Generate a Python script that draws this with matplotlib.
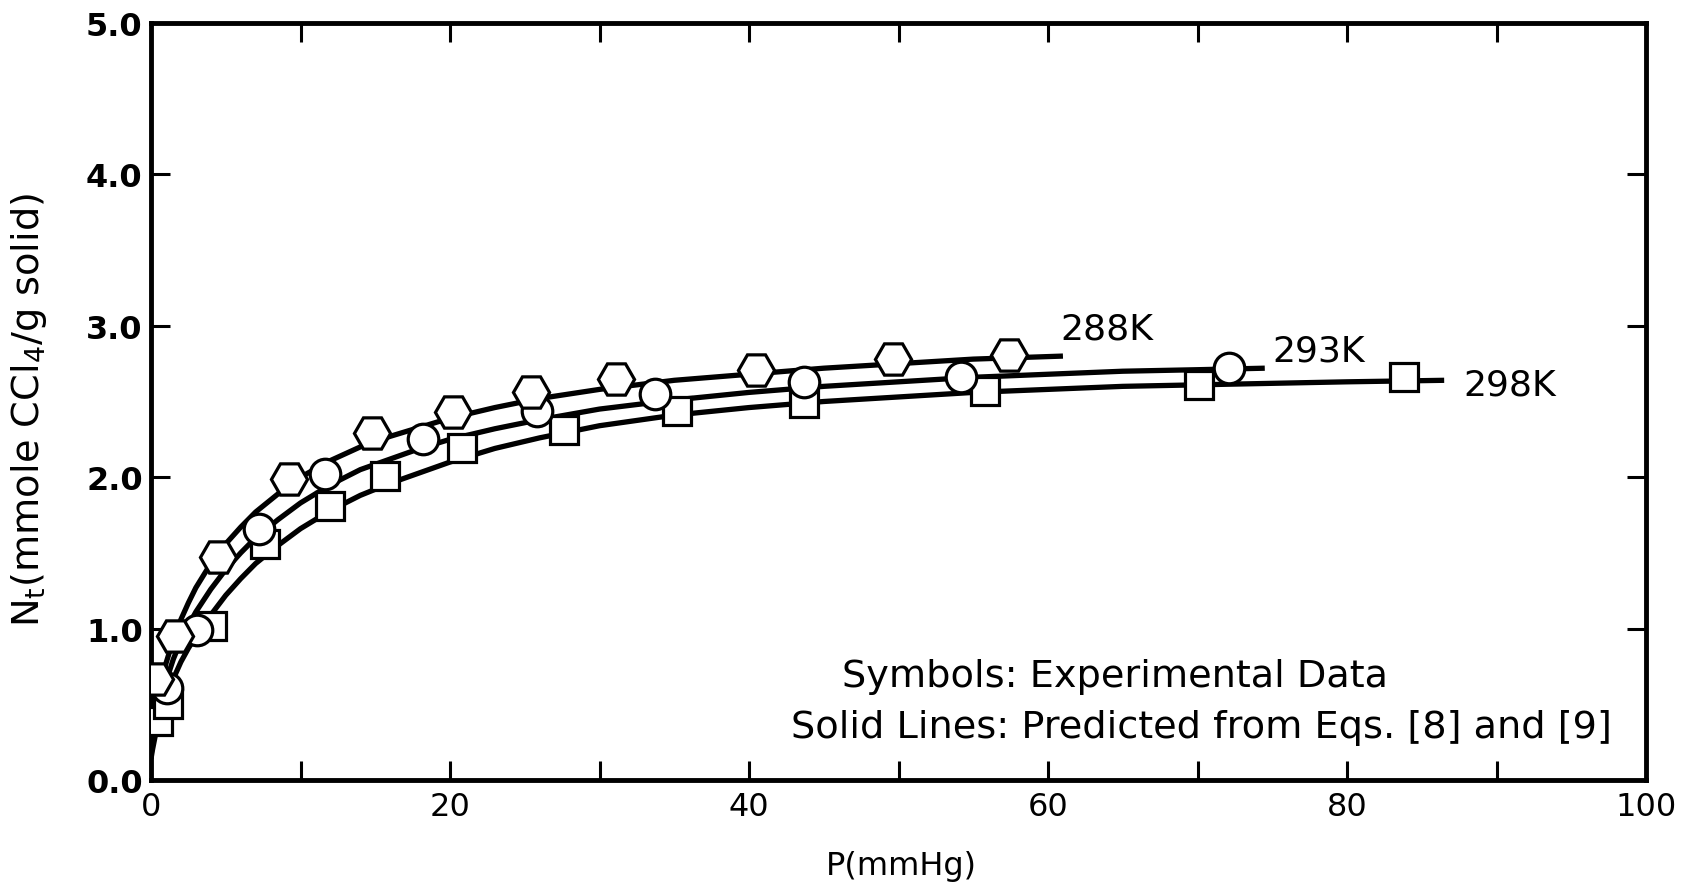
import matplotlib
matplotlib.use("Agg")
import matplotlib.pyplot as plt
import numpy as np

plt.rcParams['font.family'] = ['DejaVu Sans']
plt.rcParams['mathtext.fontset'] = 'dejavusans'

p_288 = [0.3, 1.6, 4.5, 9.2, 14.8, 20.2, 25.4, 31.1, 40.5, 49.6, 57.4]
n_288 = [0.67, 0.95, 1.47, 1.99, 2.29, 2.43, 2.56, 2.65, 2.71, 2.78, 2.81]

p_293 = [1.05, 3.05, 7.2, 11.65, 18.2, 25.8, 33.7, 43.7, 54.2, 72.1]
n_293 = [0.61, 0.99, 1.66, 2.02, 2.25, 2.44, 2.55, 2.63, 2.66, 2.72]

p_298 = [0.49, 1.15, 4.06, 7.63, 11.98, 15.67, 20.8, 27.6, 35.2, 43.7, 55.8, 70.1, 83.8]
n_298 = [0.39, 0.50, 1.02, 1.56, 1.81, 2.01, 2.19, 2.31, 2.44, 2.49, 2.57, 2.61, 2.66]

# ---- predicted curves ----
lp_288 = [0, 0.1, 0.3, 0.6, 1, 1.5, 2, 2.5, 3, 4, 5, 6, 7, 8.5, 10, 12, 14, 16, 18, 20, 23, 26, 30, 35, 40, 45, 50, 55, 61]
ln_288 = [0.18, 0.28, 0.45, 0.61, 0.77, 0.93, 1.06, 1.17, 1.27, 1.43, 1.56, 1.67, 1.77, 1.89, 2.00, 2.11, 2.20, 2.27, 2.33, 2.39, 2.46, 2.52, 2.58, 2.64, 2.68, 2.72, 2.75, 2.78, 2.80]

lp_293 = [0, 0.1, 0.3, 0.6, 1, 1.5, 2, 2.5, 3, 4, 5, 6, 7, 8.5, 10, 12, 14, 16, 18, 20, 23, 26, 30, 35, 40, 45, 50, 55, 60, 65, 70, 74.5]
ln_293 = [0.16, 0.24, 0.37, 0.51, 0.65, 0.80, 0.92, 1.02, 1.11, 1.26, 1.39, 1.50, 1.60, 1.72, 1.83, 1.95, 2.05, 2.12, 2.19, 2.25, 2.32, 2.38, 2.45, 2.51, 2.56, 2.60, 2.63, 2.66, 2.68, 2.70, 2.71, 2.72]

lp_298 = [0, 0.1, 0.3, 0.6, 1, 1.5, 2, 2.5, 3, 4, 5, 6, 7, 8.5, 10, 12, 14, 16, 18, 20, 23, 26, 30, 35, 40, 45, 50, 55, 60, 65, 70, 75, 80, 86.5]
ln_298 = [0.14, 0.20, 0.30, 0.42, 0.54, 0.67, 0.78, 0.87, 0.95, 1.09, 1.22, 1.33, 1.43, 1.55, 1.66, 1.78, 1.88, 1.96, 2.03, 2.10, 2.19, 2.26, 2.34, 2.41, 2.46, 2.50, 2.53, 2.56, 2.58, 2.60, 2.61, 2.62, 2.63, 2.64]

curve_labels = ['288K', '293K', '298K']
label_pos = [(60.8, 2.98), (75.0, 2.84), (87.8, 2.61)]

x_ticks = [0, 20, 40, 60, 80, 100]
y_ticks = [0.0, 1.0, 2.0, 3.0, 4.0, 5.0]

fig = plt.figure(figsize=(16.92, 8.87), dpi=100)
ax = fig.add_axes([151/1692, 1-781/887, 1495/1692, 757/887])

lw = 3.8
for lp, ln in [(lp_288, ln_288), (lp_293, ln_293), (lp_298, ln_298)]:
    ax.plot(lp, ln, color='black', lw=lw, zorder=2, solid_capstyle='butt',
            solid_joinstyle='round')

mew = 2.3
ax.plot(p_298, n_298, ls='none', marker='s', ms=20, mfc='white', mec='black', mew=mew, zorder=3)
ax.plot(p_293, n_293, ls='none', marker='o', ms=22, mfc='white', mec='black', mew=mew, zorder=4)
ax.plot(p_288, n_288, ls='none', marker='H', ms=26, mfc='white', mec='black', mew=mew, zorder=5)

for lab, (x, y) in zip(curve_labels, label_pos):
    ax.text(x, y, lab, fontsize=26, ha='left', va='center')

ax.text(46.2, 0.69, 'Symbols: Experimental Data', fontsize=27.5, ha='left', va='center')
ax.text(42.8, 0.35, 'Solid Lines: Predicted from Eqs. [8] and [9]', fontsize=27.5, ha='left', va='center')

ax.set_xlim(0, 100)
ax.set_ylim(0, 5)
ax.set_xticks(x_ticks)
ax.set_xticks(np.arange(0, 101, 10), minor=True)
ax.set_yticks(y_ticks)
ax.set_yticklabels(['%.1f' % v for v in y_ticks])
ax.tick_params(which='both', direction='in', top=True, right=True, length=14, width=2.2)
ax.tick_params(axis='x', which='major', labelsize=23, pad=8)
ax.tick_params(axis='y', which='major', labelsize=23, pad=6)
for lbl in ax.get_yticklabels():
    lbl.set_fontweight('bold')
for s in ax.spines.values():
    s.set_linewidth(3.5)

ax.set_xlabel('P(mmHg)', fontsize=23)
ax.set_ylabel(r'N$_{\mathrm{t}}$(mmole CCl$_{4}$/g solid)', fontsize=27.5)
ax.xaxis.set_label_coords(0.502, -0.093)
ax.yaxis.set_label_coords(-0.068, 0.49)

fig.savefig('out.png', dpi=100)
